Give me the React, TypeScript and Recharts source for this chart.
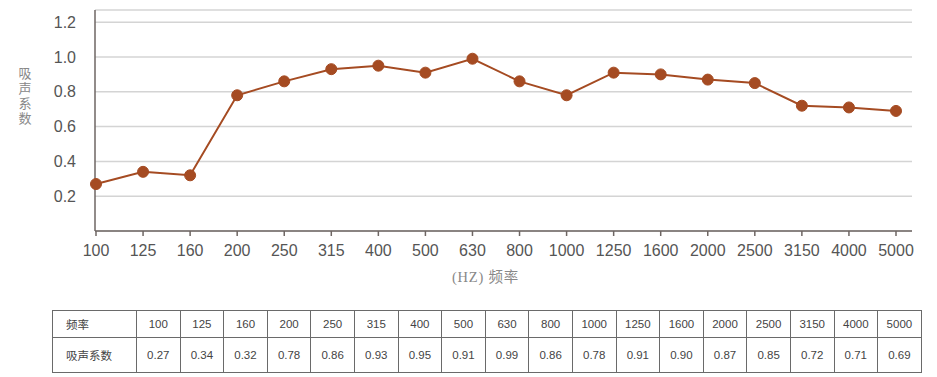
import React from "react";
import { LineChart, Line, XAxis, YAxis, CartesianGrid, Label } from "recharts";

const frequencies = ["100", "125", "160", "200", "250", "315", "400", "500", "630", "800", "1000", "1250", "1600", "2000", "2500", "3150", "4000", "5000"];
const absorption = [0.27, 0.34, 0.32, 0.78, 0.86, 0.93, 0.95, 0.91, 0.99, 0.86, 0.78, 0.91, 0.90, 0.87, 0.85, 0.72, 0.71, 0.69];
const yTicks = [0.2, 0.4, 0.6, 0.8, 1.0, 1.2];
const yLabelText = "吸声系数";
const xLabelText = "(HZ) 频率";
const rowHeader1 = "频率";
const rowHeader2 = "吸声系数";

const data = frequencies.map((f, i) => ({ f, v: absorption[i] }));

const LINE = "#A54B22";
const AXIS = "#6e6663";
const TICK_TEXT = "#555555";
const FONT = "'Liberation Sans', Arial, 'Noto Sans CJK SC', sans-serif";

const YLabel = () => {
  return (
    <text
      x={25}
      y={97}
      fill="#888888"
      fontSize={13}
      letterSpacing={2}
      fontFamily="'Noto Sans CJK SC', sans-serif"
      textAnchor="middle"
      style={{ writingMode: "vertical-rl" } as React.CSSProperties}
    >
      {yLabelText}
    </text>
  );
};

const XLabel = (props: any) => {
  const vb = props.viewBox || { x: 95, y: 231, width: 817 };
  return (
    <text x={vb.x + vb.width / 2 - 18} y={vb.y + 51} fill="#888888" fontSize={14.5} letterSpacing={0.8} fontFamily="'Liberation Serif', 'Noto Sans CJK SC', serif" textAnchor="middle">
      {xLabelText}
    </text>
  );
};

const cellStyle: React.CSSProperties = {
  border: "1px solid #6a6a6a",
  textAlign: "center",
  padding: 0,
  fontSize: 11.5,
  color: "#444",
  fontFamily: FONT,
};

export default function App() {
  return (
    <div style={{ position: "absolute", left: 0, top: 0, width: 937, height: 377, background: "#fff" }}>
      <LineChart width={937} height={300} data={data} margin={{ top: 10, right: 25, bottom: 0, left: 0 }}>
        <CartesianGrid vertical={false} stroke="#d4d4d4" strokeWidth={1.5} />
        <XAxis
          dataKey="f"
          height={69}
          padding={{ left: 1, right: 16 }}
          stroke={AXIS}
          strokeWidth={1.5}
          tickSize={5}
          tickMargin={9}
          tick={{ fill: TICK_TEXT, fontSize: 16, fontFamily: FONT }}
          interval={0}
        >
          <Label content={XLabel} />
        </XAxis>
        <YAxis
          width={95}
          domain={[0, 1.27]}
          ticks={yTicks}
          allowDataOverflow
          stroke={AXIS}
          strokeWidth={1.5}
          tickLine={false}
          tickSize={0}
          tickMargin={19}
          tickFormatter={(v: number) => v.toFixed(1)}
          tick={{ fill: TICK_TEXT, fontSize: 16, fontFamily: FONT }}
        >
          <Label content={YLabel} />
        </YAxis>
        <Line
          dataKey="v"
          stroke={LINE}
          strokeWidth={2}
          dot={{ r: 5.5, fill: LINE, stroke: LINE, strokeWidth: 1 }}
          isAnimationActive={false}
        />
      </LineChart>
      <table
        style={{
          position: "absolute",
          left: 52,
          top: 310,
          width: 869,
          borderCollapse: "collapse",
          tableLayout: "fixed",
        }}
      >
        <colgroup>
          <col style={{ width: 84 }} />
          {frequencies.map((f) => (
            <col key={f} style={{ width: 43.6 }} />
          ))}
        </colgroup>
        <tbody>
          <tr style={{ height: 27 }}>
            <td style={{ ...cellStyle, textAlign: "left", paddingLeft: 13, verticalAlign: "middle" }}>{rowHeader1}</td>
            {frequencies.map((f) => (
              <td key={f} style={cellStyle}>{f}</td>
            ))}
          </tr>
          <tr style={{ height: 35 }}>
            <td style={{ ...cellStyle, textAlign: "left", paddingLeft: 13 }}>{rowHeader2}</td>
            {absorption.map((v, i) => (
              <td key={i} style={cellStyle}>{v.toFixed(2)}</td>
            ))}
          </tr>
        </tbody>
      </table>
    </div>
  );
}
